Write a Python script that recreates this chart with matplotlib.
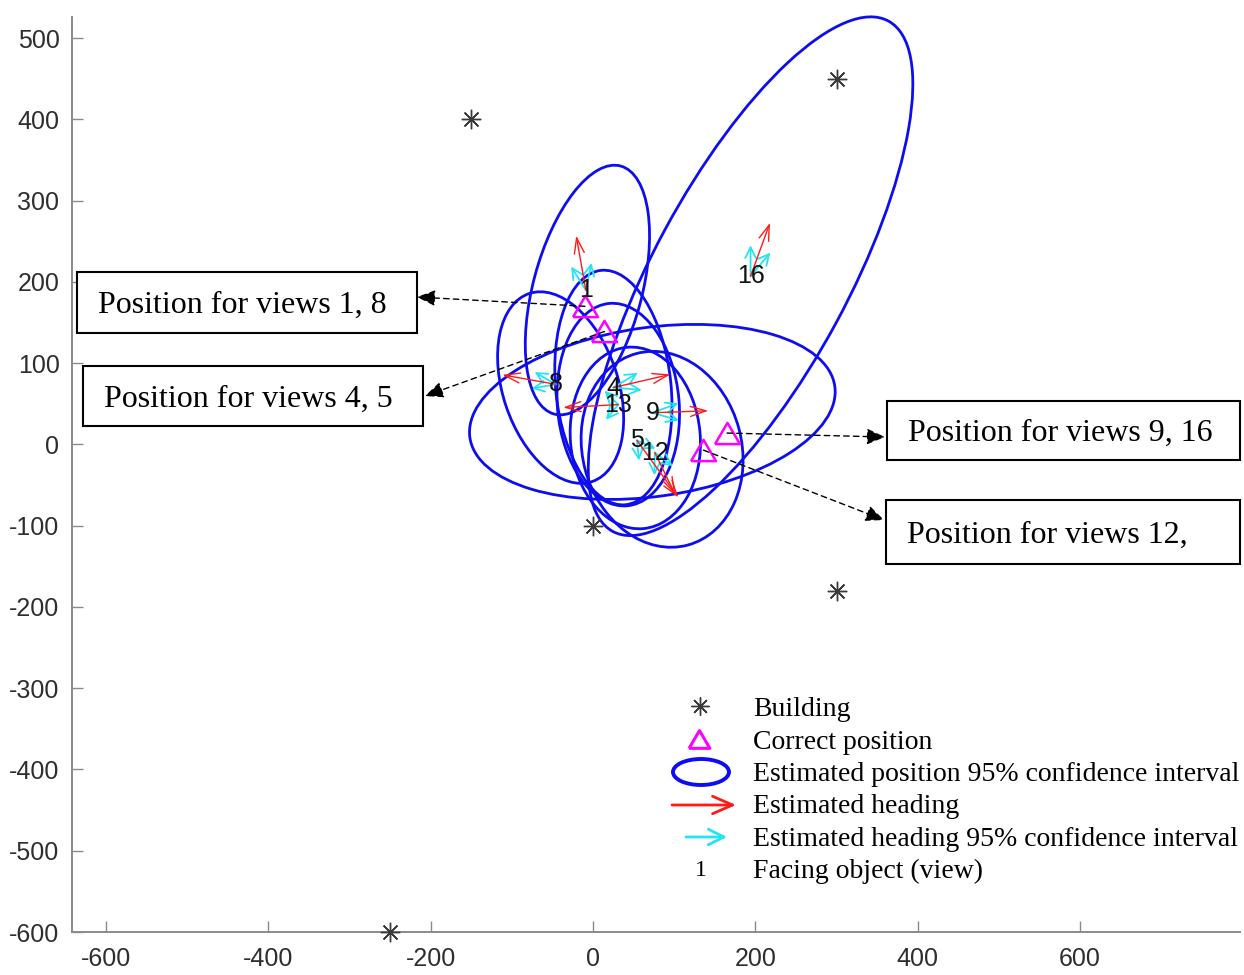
import numpy as np
import matplotlib
matplotlib.use("Agg")
import matplotlib.pyplot as plt
from matplotlib.patches import Ellipse, Rectangle

plt.rcParams["axes.unicode_minus"] = False

W, H = 1244, 975

# ---------------- data ----------------
building_x = [-150, 300, 0, 300, -250]
building_y = [400, 450, -100, -180, -600]

correct_x = [-10, 14, 165, 136]
correct_y = [170, 139, 14, -7]

views = ["1", "8", "4", "13", "9", "5", "12", "16"]
est_x = [-9, -46, 25, 31, 73, 54, 76, 194]
est_y = [190, 74, 70, 49, 39, 5, -10, 207]

heading_deg = [100, 170, 13, 183, 2, -54, -64, 70]
heading_len = [68, 67, 72, 68, 69, 87, 58, 70]
ci_half_deg = [22, 20, 18, 48, 18, 30, 27, 20]
ci_len = [34, 30, 35, 24, 34, 25, 28, 38]

ell_cx = [-7, -40, 25, 31, 73, 52, 85, 194]
ell_cy = [190, 70, 70, 49, 40, 8, -6, 207]
ell_a = [158, 122, 145, 125, 227, 112, 122, 357]
ell_b = [67, 71, 71, 75, 104, 80, 98, 120]
ell_ang = [75, 108.5, 96, 95, 8, 95, 105, 61.6]

x_ticks = [-600, -400, -200, 0, 200, 400, 600]
y_ticks = [-600, -500, -400, -300, -200, -100, 0, 100, 200, 300, 400, 500]

box_labels = ["Position for views 1, 8", "Position for views 4, 5",
              "Position for views 9, 16", "Position for views 12,"]
box_target = [0, 1, 2, 3]

legend_labels = ["Building", "Correct position",
                 "Estimated position 95% confidence interval",
                 "Estimated heading",
                 "Estimated heading 95% confidence interval",
                 "Facing object (view)"]

# ---------------- style ----------------
BLUE = "#0d0df0"
RED = "#ff1a1a"
CYAN = "#22e4f4"
MAG = "#ff00ff"
STAR = "#3a3a3a"
SERIF = ["Liberation Serif", "DejaVu Serif"]
SANS = ["Liberation Sans", "DejaVu Sans"]

def fx(px):
    return px / W

def fy(py):
    return 1 - py / H

fig = plt.figure(figsize=(W / 100, H / 100), dpi=100)
fig.patch.set_facecolor("white")
ax = fig.add_axes([72 / W, (H - 932) / H, 1168 / W, 915 / H])
ax.set_xlim(-642, 797)
ax.set_ylim(-600, 526)

for s in ["top", "right"]:
    ax.spines[s].set_visible(False)
for s in ["left", "bottom"]:
    ax.spines[s].set_color("#8a8a8a")
    ax.spines[s].set_linewidth(1.4)

ax.set_xticks(x_ticks)
ax.set_yticks(y_ticks)
ax.tick_params(direction="in", length=8, width=1, color="#8a8a8a",
               labelsize=18, labelcolor="#2e2e2e")
ax.tick_params(axis="x", pad=11)
ax.tick_params(axis="y", pad=9)
for lab in ax.get_xticklabels() + ax.get_yticklabels():
    lab.set_fontfamily(SANS)

tri = [(-1, -0.85), (1, -0.85), (0, 0.85), (-1, -0.85)]

# ellipses
for cx, cy, a, b, ang in zip(ell_cx, ell_cy, ell_a, ell_b, ell_ang):
    ax.add_patch(Ellipse((cx, cy), 2 * a, 2 * b, angle=ang, fill=False,
                         edgecolor=BLUE, lw=2.0, zorder=2, clip_on=False))

# heading arrows
for x, y, hd, L, ch, cl in zip(est_x, est_y, heading_deg, heading_len,
                               ci_half_deg, ci_len):
    for sgn in (-1, 1):
        t = np.radians(hd + sgn * ch)
        ax.annotate("", xy=(x + cl * np.cos(t), y + cl * np.sin(t)), xytext=(x, y),
                    arrowprops=dict(arrowstyle="->,head_length=0.7,head_width=0.35",
                                    color=CYAN, lw=1.3, shrinkA=0, shrinkB=0,
                                    mutation_scale=11), zorder=3)
    t = np.radians(hd)
    ax.annotate("", xy=(x + L * np.cos(t), y + L * np.sin(t)), xytext=(x, y),
                arrowprops=dict(arrowstyle="->,head_length=0.75,head_width=0.24",
                                color=RED, lw=1.0, shrinkA=0, shrinkB=0,
                                mutation_scale=15), zorder=3.5)

# view labels
for v, x, y in zip(views, est_x, est_y):
    ax.text(x, y, v, ha="center", va="center", fontsize=18, color="#111111",
            family=SANS, zorder=5)

# correct positions
ax.plot(correct_x, correct_y, linestyle="none", marker=tri, markersize=18,
        mfc="none", mec=MAG, mew=1.8, zorder=4)

# buildings
ax.plot(building_x, building_y, linestyle="none", marker=(8, 2, 0), markersize=14,
        color=STAR, mew=1.0, zorder=4, clip_on=False)

# annotation boxes (pixel layout)
box_rects = [(77, 272, 417, 333), (83, 366, 423, 426),
             (887, 401, 1240, 460), (886, 500, 1240, 564)]
arrow_tips = [(417, 297), (425, 396), (885, 437), (884, 520)]
for lbl, rect, tip, ti in zip(box_labels, box_rects, arrow_tips, box_target):
    x0, y0, x1, y1 = rect
    fig.add_artist(Rectangle((fx(x0), fy(y1)), fx(x1) - fx(x0), fy(y0) - fy(y1),
                             transform=fig.transFigure, fill=True, facecolor="white",
                             edgecolor="black", lw=1.5, zorder=6))
    fig.text(fx(x0 + 21), fy((y0 + y1) / 2 + 10.5), lbl, ha="left", va="baseline",
             fontsize=23, family=SERIF, color="black", zorder=7)
    ax.annotate("", xy=(fx(tip[0]), fy(tip[1])), xycoords="figure fraction",
                xytext=(correct_x[ti], correct_y[ti]), textcoords="data",
                arrowprops=dict(arrowstyle="-|>,head_length=0.8,head_width=0.35",
                                color="black", lw=1.0, linestyle=(0, (4, 3)),
                                shrinkA=0, shrinkB=0, mutation_scale=14), zorder=6)

# legend (pixel layout)
rows = [706, 739, 771, 803, 836, 868]
for lbl, ry in zip(legend_labels, rows):
    fig.text(fx(753), fy(ry + 10), lbl, ha="left", va="baseline", fontsize=20,
             family=SERIF, color="black")
ax.plot([fx(700)], [fy(706)], transform=fig.transFigure, clip_on=False,
        marker=(8, 2, 0), markersize=13, color=STAR, mew=1.0, linestyle="none")
ax.plot([fx(699)], [fy(739)], transform=fig.transFigure, clip_on=False,
        marker=tri, markersize=15, mfc="none", mec=MAG, mew=2.2, linestyle="none")
fig.add_artist(Ellipse((fx(701), fy(772)), 56 / W, 26 / H, transform=fig.transFigure,
                       fill=False, edgecolor=BLUE, lw=2.8))
fig.add_artist(matplotlib.patches.FancyArrowPatch(
    (fx(672), fy(805)), (fx(736), fy(805)), transform=fig.transFigure,
    arrowstyle="->,head_length=0.8,head_width=0.35", mutation_scale=18,
    color=RED, lw=2.0, shrinkA=0, shrinkB=0))
fig.add_artist(matplotlib.patches.FancyArrowPatch(
    (fx(686), fy(837)), (fx(727), fy(837)), transform=fig.transFigure,
    arrowstyle="->,head_length=0.8,head_width=0.4", mutation_scale=14,
    color=CYAN, lw=2.0, shrinkA=0, shrinkB=0))
fig.text(fx(701), fy(868 + 8), "1", ha="center", va="baseline", fontsize=17,
         family=SERIF, color="black")

fig.savefig("out.png", dpi=100, facecolor="white")
